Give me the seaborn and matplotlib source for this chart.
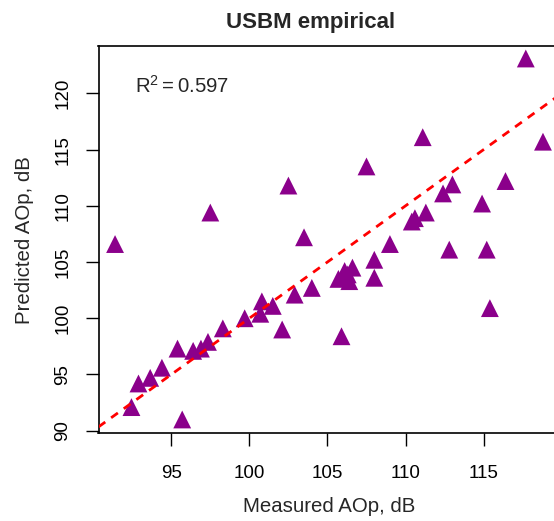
import matplotlib
matplotlib.use("Agg")
import matplotlib.pyplot as plt
import seaborn as sns
import pandas as pd

measured = [91.4, 92.45, 92.9, 93.65, 94.4, 95.4, 95.7, 96.4, 96.9, 97.35,
            97.5, 98.3, 99.7, 100.7, 100.8, 101.5, 102.1, 102.5, 102.9, 103.5,
            104.0, 105.7, 105.9, 106.1, 106.3, 106.4, 106.6, 107.5, 108.0, 108.0,
            109.0, 110.4, 110.6, 111.1, 111.3, 112.4, 112.8, 113.0, 114.9, 115.2,
            115.4, 116.4, 117.7, 118.8]
predicted = [106.6, 92.1, 94.2, 94.7, 95.6, 97.3, 91.0, 97.1, 97.3, 97.9,
             109.4, 99.1, 100.0, 100.4, 101.5, 101.1, 99.0, 111.8, 102.1, 107.2,
             102.7, 103.5, 98.4, 104.2, 103.9, 103.3, 104.5, 113.5, 103.6, 105.2,
             106.6, 108.6, 108.9, 116.1, 109.4, 111.1, 106.1, 111.9, 110.2, 106.1,
             100.9, 112.2, 123.1, 115.7]
x_ticks = [95, 100, 105, 110, 115]
y_ticks = [90, 95, 100, 105, 110, 115, 120]
title = "USBM empirical"
r2_label = r"$\mathrm{R}^2 = 0.597$"

sns.set_style("ticks")
plt.rcParams["font.family"] = ["Liberation Sans", "DejaVu Sans"]
plt.rcParams["mathtext.fontset"] = "custom"
plt.rcParams["mathtext.rm"] = "Liberation Sans"
plt.rcParams["mathtext.it"] = "Liberation Sans:italic"

df = pd.DataFrame({"Measured": measured, "Predicted": predicted})

W, H = 554, 521
fig = plt.figure(figsize=(W / 100, H / 100), dpi=100)
# axes in pixel coords: left 99, right 560 (beyond figure), top 46, bottom 433.3
l, r, t, b = 98.5, 560, 46, 433.3
ax = fig.add_axes([l / W, 1 - b / H, (r - l) / W, (b - t) / H])

sns.scatterplot(data=df, x="Measured", y="Predicted", marker="^", s=165,
                color="#8B008B", edgecolor="none", linewidth=0, ax=ax, zorder=2)
ax.axline((100, 100), slope=1, color="#FF0000", lw=2.0,
          linestyle=(0, (3.0, 2.6)), zorder=3)

ax.set_xlim(90.34, 119.89)
ax.set_ylim(89.77, 124.21)
ax.set_xticks(x_ticks)
ax.set_yticks(y_ticks)
ax.set_xticklabels([str(v) for v in x_ticks])
ax.set_yticklabels([str(v) for v in y_ticks], rotation=90, va="center")
ax.tick_params(axis="both", direction="out", length=9.2, width=1.0,
               labelsize=13.5, colors="black")
ax.tick_params(axis="x", pad=13.5)
ax.tick_params(axis="y", pad=10.5)
for side in ["left", "bottom", "top"]:
    ax.spines[side].set_visible(True)
    ax.spines[side].set_color("black")
    ax.spines[side].set_linewidth(1.2)
ax.spines["right"].set_visible(False)
ax.set_xlabel("")
ax.set_ylabel("")

fig.text(311 / W, 1 - 22.5 / H, title, ha="center", va="center",
         fontsize=16, fontweight="bold")
fig.text(329 / W, 1 - 506 / H, "Measured AOp, dB", ha="center", va="center",
         fontsize=14.7)
fig.text(24.5 / W, 1 - 240 / H, "Predicted AOp, dB", ha="center", va="center",
         fontsize=14.7, rotation=90)
ax.text(92.65, 120.07, r2_label, ha="left", va="baseline", fontsize=14.7)

fig.savefig("out.png", dpi=100)
